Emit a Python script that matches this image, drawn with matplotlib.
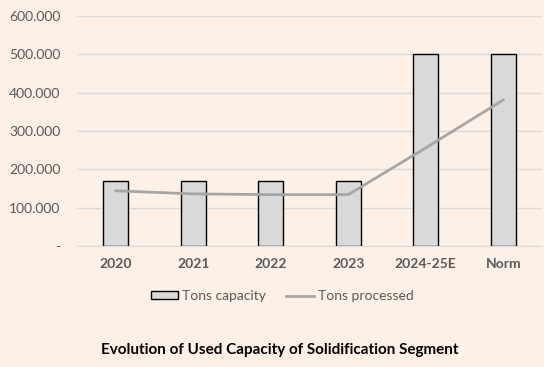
import matplotlib
matplotlib.use("Agg")
import matplotlib.pyplot as plt
from matplotlib.ticker import FuncFormatter

categories = ["2020", "2021", "2022", "2023", "2024-25E", "Norm"]
tons_capacity = [170000, 170000, 170000, 170000, 500000, 500000]
tons_processed = [144000, 136000, 134000, 134000, 256000, 381000]

bg = "#FDF0E6"
plt.rcParams['font.family'] = ['Lato', 'DejaVu Sans']

fig = plt.figure(figsize=(5.44, 3.67), dpi=100, facecolor=bg)
ax = fig.add_axes([77/544, 1-246/367, (542-77)/544, (246-16)/367])
ax.set_facecolor(bg)

x = list(range(len(categories)))
bars = ax.bar(x, tons_capacity, width=0.32, color="#D9D9D9", edgecolor="black", linewidth=1.0,
              label="Tons capacity", zorder=2)
line, = ax.plot(x, tons_processed, color="#A6A6A6", linewidth=2.0, label="Tons processed", zorder=3)

ax.set_xlim(-0.5, len(categories) - 0.5)
ax.set_ylim(0, 600000)
ax.set_yticks(range(0, 600001, 100000))
ax.yaxis.set_major_formatter(FuncFormatter(lambda v, p: "-" if v == 0 else f"{int(v):,}".replace(",", ".")))
ax.grid(axis="y", color="#D9D9D9", linewidth=1.0, zorder=0)
ax.set_axisbelow(True)
for s in ["top", "right", "left"]:
    ax.spines[s].set_visible(False)
ax.spines["bottom"].set_color("#D9D9D9")
ax.tick_params(axis="both", length=0, colors="#595959")
ax.tick_params(axis="y", labelsize=10, pad=12)
ax.tick_params(axis="x", pad=9)
ax.set_xticks(x)
ax.set_xticklabels(categories, fontsize=10, fontweight="bold", color="#595959")

leg = fig.legend([bars, line], ["Tons capacity", "Tons processed"], loc="center",
                 bbox_to_anchor=(282/544, 1-296/367), ncol=2, frameon=False,
                 fontsize=10, handlelength=2.0, handleheight=0.5, columnspacing=1.4,
                 handletextpad=0.3)
for t in leg.get_texts():
    t.set_color("#595959")

fig.text(280/544, 1-350/367, "Evolution of Used Capacity of Solidification Segment",
         ha="center", va="center", fontsize=11, fontweight="bold", color="black")

fig.savefig("out.png", dpi=100, facecolor=bg)
